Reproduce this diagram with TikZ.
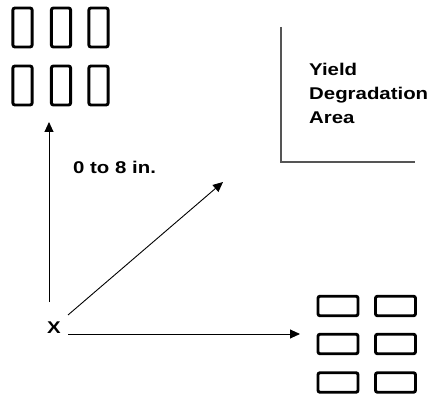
\documentclass[tikz,border=0pt]{standalone}
\usepackage{fontspec}
\newfontfamily\lblfont{Liberation Sans}[FakeStretch=1.2]
\usetikzlibrary{arrows.meta}
\definecolor{linegrey}{RGB}{85,85,85}

\begin{document}
\begin{tikzpicture}[x=1pt,y=-1pt,
  lbl/.style={font=\lblfont\bfseries\fontsize{17pt}{23.8pt}\selectfont,inner sep=0pt},
  tallcell/.style={draw,line width=2.9pt,rounded corners=2pt,inner sep=0pt,minimum width=19.2pt,minimum height=39pt},
  widecell/.style={draw,line width=2.9pt,rounded corners=2pt,inner sep=0pt,minimum width=40pt,minimum height=19.5pt},
  arr/.style={-{Triangle[length=10pt,width=9pt]},line width=0.9pt}]
\useasboundingbox (0,0) rectangle (440,396);
\foreach \col/\cx in {1/22.5,2/61,3/98.5}
  \foreach \row/\cy in {1/27.5,2/85.5}
    \node[tallcell] (t\row\col) at (\cx,\cy) {};
\foreach \col/\cx in {1/338,2/395.5}
  \foreach \row/\cy in {1/306,2/344,3/382.5}
    \node[widecell] (w\row\col) at (\cx,\cy) {};
\coordinate (corner) at (281,162);
\draw[linegrey,line width=1.2pt] (281,27) -- (corner) -- (415,162);
\node[lbl,anchor=north west,align=left] (yda) at (309,63) {Yield\\Degradation\\Area};
\node[lbl] (xo) at (54,327.5) {X};
\coordinate (upstart) at (49,302);
\coordinate (diagstart) at (68,315);
\coordinate (rightstart) at (68,334);
\coordinate (uptip) at (49,122);
\coordinate (diagtip) at (223,182);
\coordinate (righttip) at (300,334);
\draw[arr] (upstart) -- (uptip);
\draw[arr] (diagstart) -- (diagtip);
\draw[arr] (rightstart) -- (righttip);
\node[lbl,anchor=base west] (range) at (73,174) {0 to 8 in.};
\end{tikzpicture}
\end{document}
